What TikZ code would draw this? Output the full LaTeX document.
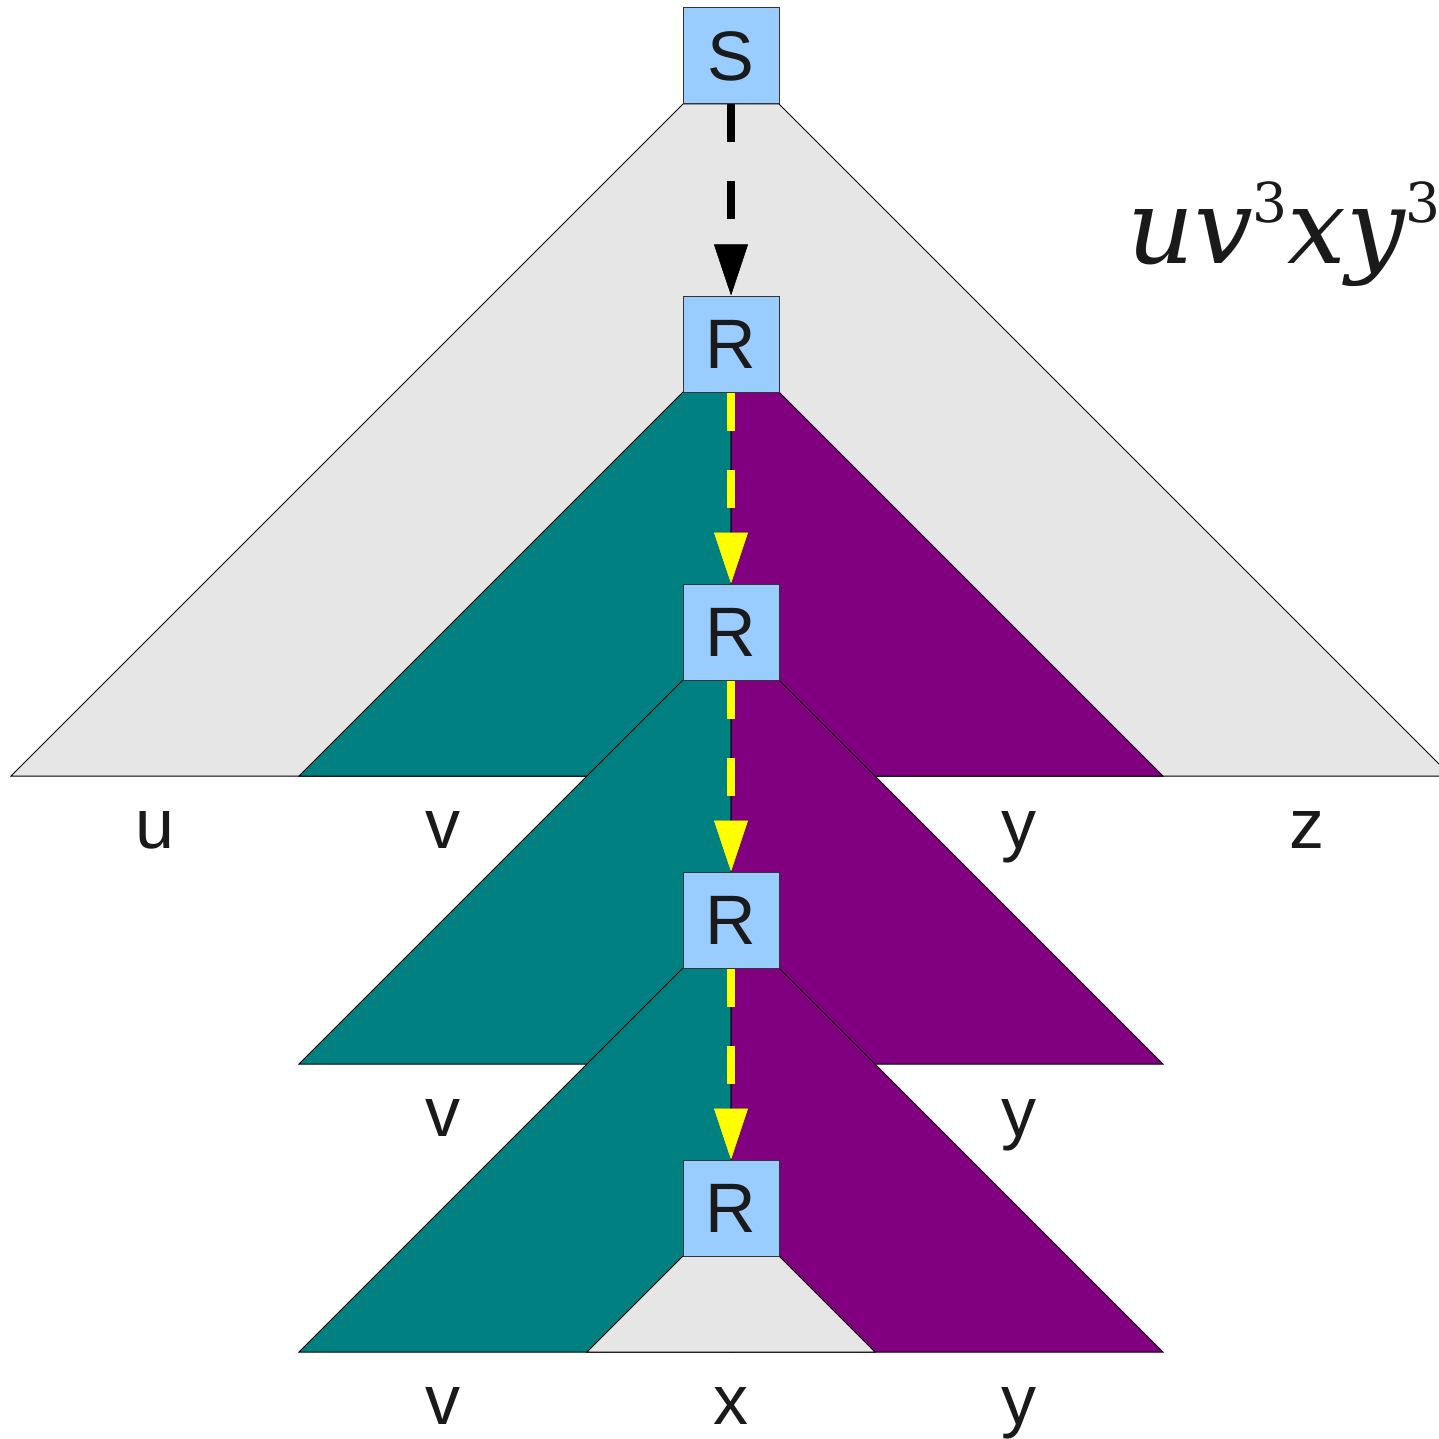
\documentclass[tikz,border=0pt]{standalone}
\usepackage{fontspec}
\setmainfont{Liberation Sans}
\newfontfamily\formfont{DejaVu Serif}
\usetikzlibrary{arrows.meta}
\definecolor{grayc}{HTML}{E6E6E6}
\definecolor{tealc}{HTML}{008080}
\definecolor{purplec}{HTML}{800080}
\definecolor{boxc}{HTML}{99CCFF}
\definecolor{boxline}{HTML}{333333}
\definecolor{textc}{HTML}{1A1A1A}
\definecolor{yel}{HTML}{FFFF00}
\begin{document}
\begin{tikzpicture}[x=1pt,y=-1pt,
  edge/.style={draw=black,line width=1pt,line join=miter},
  grayshape/.style={edge,fill=grayc},
  tealshape/.style={edge,fill=tealc},
  purpleshape/.style={edge,fill=purplec},
  box/.style={draw=boxline,fill=boxc,line width=1pt,minimum size=96pt,inner sep=0pt,
    text=textc,font=\fontsize{70}{70}\selectfont},
  lab/.style={anchor=base,inner sep=0pt,text=textc,font=\fontsize{70}{70}\selectfont},
  darr/.style={line width=8pt,dash pattern=on 38pt off 39pt,
    -{Triangle[length=51pt,width=34pt,line width=0.5pt]}},
]
\useasboundingbox (0,0) rectangle (1439,1439);
\fill[white] (0,0) rectangle (1439,1439);
\clip (0,0) rectangle (1439,1439);

% big gray triangle
\path[grayshape] (683,104) -- (779,104) -- (1451,776) -- (11,776) -- cycle;

% level 1
\path[tealshape] (683,392) -- (731,392) -- (731,776) -- (299,776) -- cycle;
\path[purpleshape] (731,392) -- (779,392) -- (1163,776) -- (731,776) -- cycle;
% level 2
\path[tealshape] (683,680) -- (731,680) -- (731,1064) -- (299,1064) -- cycle;
\path[purpleshape] (731,680) -- (779,680) -- (1163,1064) -- (731,1064) -- cycle;
% level 3
\path[tealshape] (683,968) -- (731,968) -- (731,1352) -- (299,1352) -- cycle;
\path[purpleshape] (731,968) -- (779,968) -- (1163,1352) -- (731,1352) -- cycle;
% bottom gray
\path[grayshape] (683,1256) -- (779,1256) -- (875,1352) -- (587,1352) -- cycle;

% boxes
\node[box] (S) at (731,56) {S};
\node[box] (R1) at (731,344) {R};
\node[box] (R2) at (731,632) {R};
\node[box] (R3) at (731,920) {R};
\node[box] (R4) at (731,1208) {R};

% arrows
\draw[darr,draw=black] (S.south) -- (R1.north);
\draw[darr,draw=yel] (R1.south) -- (R2.north);
\draw[darr,draw=yel] (R2.south) -- (R3.north);
\draw[darr,draw=yel] (R3.south) -- (R4.north);

% labels
\node[lab] (lu) at (155,848) {u};
\node[lab] (lv1) at (443,848) {v};
\node[lab] (ly1) at (1019,848) {y};
\node[lab] (lz) at (1307,848) {z};
\node[lab] (lv2) at (443,1136) {v};
\node[lab] (ly2) at (1019,1136) {y};
\node[lab] (lv3) at (443,1424) {v};
\node[lab] (lx) at (731,1424) {x};
\node[lab] (ly3) at (1019,1424) {y};

% formula
\node[anchor=base west,inner sep=0pt,text=textc] (form) at (1127,263)
  {\fontsize{104}{104}\selectfont\formfont\itshape uv\raisebox{40pt}{\fontsize{55}{55}\selectfont\upshape 3}xy\raisebox{40pt}{\fontsize{55}{55}\selectfont\upshape 3}};
\end{tikzpicture}
\end{document}
